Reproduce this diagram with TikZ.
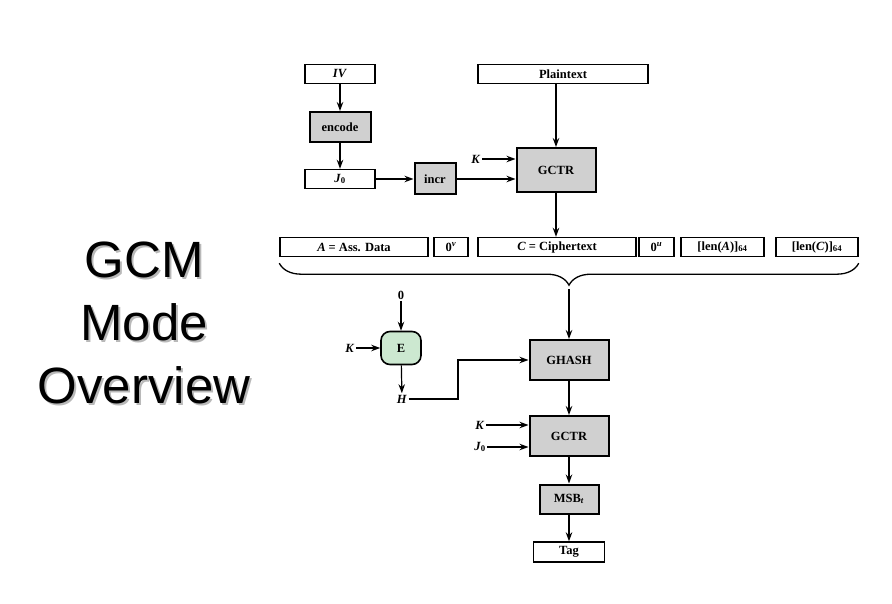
\documentclass[tikz,border=0pt]{standalone}
\usepackage{fontspec}
\setmainfont{Liberation Serif}
\newfontfamily\titlefont{Liberation Sans}
\usetikzlibrary{arrows.meta,decorations.pathreplacing}
\definecolor{boxgray}{RGB}{208,208,208}
\definecolor{egreen}{RGB}{204,232,208}
\definecolor{shadowgray}{RGB}{185,185,185}

\begin{document}
\begin{tikzpicture}[x=1pt,y=-1pt,
    font=\fontsize{12.5}{14}\selectfont\bfseries,
    wbox/.style={draw,line width=1.4pt,fill=white,inner sep=0pt,minimum height=19pt},
    gbox/.style={draw,line width=2pt,fill=boxgray,inner sep=0pt},
    lbl/.style={inner sep=1.5pt},
    arr/.style={-{Stealth[length=9pt,width=6.5pt]},line width=1.2pt},
    ttl/.style={font=\titlefont\fontsize{51}{63}\selectfont,align=center,inner sep=0pt}]
  \useasboundingbox (0,0) rectangle (892,604);

  % title
  \node[ttl,text=shadowgray] (titleshadow) at (146,325) {GCM\\Mode\\Overview};
  \node[ttl] (title) at (144,323) {GCM\\Mode\\Overview};

  % upper part
  \node[wbox,minimum width=70pt] (iv) at (340,74) {\textit{IV}};
  \node[gbox,minimum width=61pt,minimum height=30pt] (encode) at (340,127) {encode};
  \node[wbox,minimum width=70pt] (jzero) at (340,179) {\textit{J}\textsubscript{0}};
  \node[gbox,minimum width=41pt,minimum height=31pt] (incr) at (435,179) {incr};
  \node[wbox,minimum width=170pt] (plain) at (563,74) {Plaintext};
  \node[gbox,minimum width=79pt,minimum height=44pt] (gctr) at (556,170) {GCTR};
  \node[lbl] (kone) at (476,159) {\textit{K}};

  \draw[arr] (iv) -- (encode);
  \draw[arr] (encode) -- (jzero);
  \draw[arr] (jzero) -- (incr);
  \draw[arr] (incr) -- (incr -| gctr.west);
  \draw[arr] (kone) -- (kone -| gctr.west);
  \draw[arr] (gctr |- plain.south) -- (gctr.north);

  % data row
  \node[wbox,minimum width=148pt] (adata) at (354,247) {\textit{A} = Ass. Data\hspace{28pt}};
  \node[wbox,minimum width=34pt] (zerov) at (451,247) {0\textsuperscript{\textit{v}}};
  \node[wbox,minimum width=158pt] (cdata) at (557,247) {\textit{C} = Ciphertext};
  \node[wbox,minimum width=35pt] (zerou) at (656.5,247) {0\textsuperscript{\textit{u}}};
  \node[wbox,minimum width=83pt] (lena) at (722.5,247) {[len(\textit{A})]\textsubscript{64}};
  \node[wbox,minimum width=82pt] (lenc) at (817,247) {[len(\textit{C})]\textsubscript{64}};

  \draw[arr] (gctr) -- (gctr |- cdata.north);

  \draw[decorate,decoration={brace,mirror,amplitude=22pt},line width=1.3pt]
    ([yshift=-6pt]adata.south west) -- ([yshift=-6pt]lenc.south east);
  \coordinate (bracetip) at (569,289);

  % hash key
  \node[draw,line width=1.6pt,fill=egreen,rounded corners=9pt,minimum width=40pt,minimum height=33pt] (E) at (401,348) {E};
  \node[lbl] (zero) at (401,295) {0};
  \node[lbl] (kthree) at (350,348) {\textit{K}};
  \node[lbl] (H) at (402,399) {\textit{H}};
  \coordinate (hbend) at (458,399);

  % lower part
  \node[gbox,minimum width=79pt,minimum height=40pt] (ghash) at (569,360) {GHASH};
  \node[gbox,minimum width=79pt,minimum height=40pt] (gctrtwo) at (569,436) {GCTR};
  \node[lbl] (kfour) at (480,425) {\textit{K}};
  \node[lbl] (jzerob) at (480,447) {\textit{J}\textsubscript{0}};
  \node[gbox,minimum width=59pt,minimum height=29pt] (msb) at (569,499) {MSB\textsubscript{\textit{t}}};
  \node[wbox,minimum width=71pt,minimum height=20pt] (tag) at (569,552) {Tag};

  \draw[arr] (bracetip) -- (bracetip |- ghash.north);
  \draw[arr] (zero) -- (E);
  \draw[arr] (kthree) -- (E);
  \draw[arr] (E) -- (H);
  \draw[arr] (H) -- (hbend) |- (ghash);
  \draw[arr] (ghash) -- (gctrtwo);
  \draw[arr] (kfour) -- (kfour -| gctrtwo.west);
  \draw[arr] (jzerob) -- (jzerob -| gctrtwo.west);
  \draw[arr] (gctrtwo) -- (msb);
  \draw[arr] (msb) -- (tag);
\end{tikzpicture}
\end{document}
